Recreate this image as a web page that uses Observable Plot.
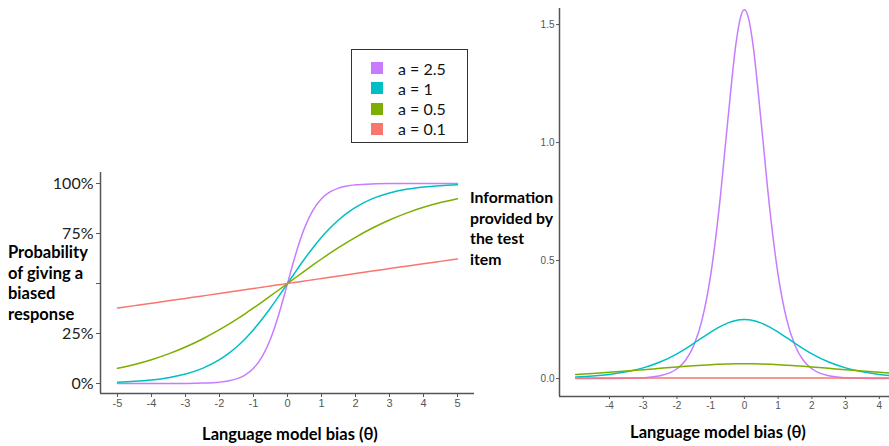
<!DOCTYPE html>
<html><head><meta charset="utf-8">
<script src="https://cdn.jsdelivr.net/npm/d3@7"></script>
<script src="https://cdn.jsdelivr.net/npm/@observablehq/plot@0.6"></script>
<style>
body{margin:0;background:#fff;}
#wrap{position:relative;width:889px;height:446px;overflow:hidden;font-family:Lato, sans-serif;}
#wrap .panel{position:absolute;top:0;}
.lbl{position:absolute;font-weight:bold;color:#000;font-size:16.5px;line-height:20.5px;white-space:nowrap;}
.xt{position:absolute;font-weight:bold;color:#000;font-size:16.5px;text-align:center;white-space:nowrap;}
#legend{position:absolute;left:351px;top:49px;width:115px;height:92px;border:1px solid #333;box-sizing:content-box;}
#legend .row{position:absolute;left:0;height:20px;display:flex;align-items:center;font-size:16px;color:#111;}
#legend .sw{width:12px;height:12px;margin-left:19px;margin-right:15px;}
</style></head><body><div id="wrap"></div>
<script>
// shared θ grid
const theta = [-5,-4.5,-4,-3.5,-3,-2.5,-2,-1.75,-1.5,-1.25,-1,-0.75,-0.5,-0.25,-0.125,0,0.125,0.25,0.5,0.75,1,1.25,1.5,1.75,2,2.5,3,3.5,4,4.5,5];

// probability of giving a biased response (left panel)
const probA25 = [0.000004,0.000013,0.000045,0.000158,0.000553,0.00193,0.00669,0.01243,0.02298,0.04209,0.07586,0.13296,0.22270,0.34865,0.42250,0.5,0.57750,0.65135,0.77730,0.86704,0.92414,0.95791,0.97702,0.98757,0.99331,0.99807,0.99945,0.99984,0.99995,0.99999,1.0];
const probA1  = [0.00669,0.01099,0.01799,0.02931,0.04743,0.07586,0.11920,0.14805,0.18243,0.22270,0.26894,0.32082,0.37754,0.43782,0.46879,0.5,0.53121,0.56218,0.62246,0.67918,0.73106,0.77730,0.81757,0.85195,0.88080,0.92414,0.95257,0.97069,0.98201,0.98901,0.99331];
const probA05 = [0.07586,0.09535,0.11920,0.14805,0.18243,0.22270,0.26894,0.29422,0.32082,0.34865,0.37754,0.40733,0.43782,0.46879,0.48438,0.5,0.51562,0.53121,0.56218,0.59267,0.62246,0.65135,0.67918,0.70578,0.73106,0.77730,0.81757,0.85195,0.88080,0.90465,0.92414];
const probA01 = [0.37754,0.38936,0.40131,0.41338,0.42556,0.43782,0.45017,0.45636,0.46257,0.46879,0.47502,0.48126,0.48750,0.49375,0.49688,0.5,0.50312,0.50625,0.51250,0.51874,0.52498,0.53121,0.53743,0.54364,0.54983,0.56218,0.57444,0.58662,0.59869,0.61064,0.62246];

// information provided by the test item (right panel)
const infoA25 = [0.00002,0.00008,0.00028,0.00099,0.00346,0.0120,0.0415,0.0767,0.1403,0.2520,0.4382,0.7205,1.0819,1.4193,1.5250,1.5625,1.5250,1.4193,1.0819,0.7205,0.4382,0.2520,0.1403,0.0767,0.0415,0.0120,0.00346,0.00099,0.00028,0.00008,0.00002];
const infoA1  = [0.006645,0.010869,0.017666,0.028451,0.045180,0.070105,0.104991,0.126131,0.149149,0.173105,0.196612,0.217894,0.235004,0.246133,0.24903,0.25,0.24903,0.246133,0.235004,0.217894,0.196612,0.173105,0.149149,0.126131,0.104991,0.070105,0.045180,0.028451,0.017666,0.010869,0.006645];
const infoA05 = [0.017526,0.021565,0.026248,0.031533,0.037287,0.043276,0.049153,0.051914,0.054474,0.056773,0.058751,0.060353,0.061533,0.062258,0.06244,0.0625,0.06244,0.062258,0.061533,0.060353,0.058751,0.056773,0.054474,0.051914,0.049153,0.043276,0.037287,0.031533,0.026248,0.021565,0.017526];
const infoA01 = [0.00235,0.00238,0.00240,0.00242,0.00244,0.00246,0.00248,0.00248,0.00249,0.00249,0.00249,0.00250,0.00250,0.00250,0.0025,0.0025,0.0025,0.00250,0.00250,0.00250,0.00249,0.00249,0.00249,0.00248,0.00248,0.00246,0.00244,0.00242,0.00240,0.00238,0.00235];

const seriesLabels = ["a = 2.5", "a = 1", "a = 0.5", "a = 0.1"];
const seriesColors = ["#C77CFF", "#00BFC4", "#7CAE00", "#F8766D"];

const probTicks = [0, 0.25, 0.5, 0.75, 1];
const probTickLabels = ["0%", "25%", "", "75%", "100%"];
const leftThetaTicks = [-5,-4,-3,-2,-1,0,1,2,3,4,5];
const infoTicks = [0, 0.5, 1, 1.5];
const infoTickLabels = ["0.0", "0.5", "1.0", "1.5"];
const rightThetaTicks = [-4,-3,-2,-1,0,1,2,3,4];

const leftYLabel = ["Probability", "of giving a", "biased", "response"];
const rightYLabel = ["Information", "provided by", "the test", "item"];
const xTitle = "Language model bias (θ)";

// build table
const probSeries = [probA25, probA1, probA05, probA01];
const infoSeries = [infoA25, infoA1, infoA05, infoA01];
const rows = [];
seriesLabels.forEach((s, k) => {
  theta.forEach((t, j) => rows.push({series: s, theta: t, p: probSeries[k][j], info: infoSeries[k][j]}));
});

const wrap = document.getElementById("wrap");
const lxDom = [-5.5, 5.5], lyDom = [-0.05, 1.055];
const left = Plot.plot({
  width: 480, height: 446,
  marginLeft: 100, marginRight: 6, marginTop: 172, marginBottom: 53,
  x: {domain: lxDom},
  y: {domain: lyDom},
  color: {domain: seriesLabels, range: seriesColors},
  style: {background: "transparent", overflow: "visible"},
  marks: [
    Plot.line(rows, {x: "theta", y: "p", z: "series", stroke: "series", curve: "monotone-x", strokeWidth: 1.5}),
    Plot.ruleX([lxDom[0]], {stroke: "#555", strokeWidth: 1.5}),
    Plot.ruleY([lyDom[0]], {stroke: "#555", strokeWidth: 1.5}),
    Plot.axisX(leftThetaTicks, {tickSize: 4, tickPadding: 2, fontSize: 11, fontFamily: "Liberation Sans", fill: "#555", stroke: "#555", tickFormat: d => String(d), label: null}),
    Plot.axisY(probTicks, {tickSize: 4, tickPadding: 3, fontSize: 16, fontFamily: "Lato", fill: "#222", stroke: "#555", tickFormat: d => probTickLabels[probTicks.indexOf(d)], label: null})
  ]
});
left.classList.add("panel");
left.style.left = "0px";
wrap.appendChild(left);

const rxDom = [-5.48, 4.3], ryDom = [-0.076, 1.568];
const right = Plot.plot({
  width: 409, height: 446,
  marginLeft: 79, marginRight: 0, marginTop: 8, marginBottom: 50,
  x: {domain: rxDom},
  y: {domain: ryDom},
  color: {domain: seriesLabels, range: seriesColors},
  style: {background: "transparent"},
  marks: [
    Plot.line(rows, {x: "theta", y: "info", z: "series", stroke: "series", curve: "monotone-x", strokeWidth: 1.5, clip: true}),
    Plot.ruleX([rxDom[0]], {stroke: "#555", strokeWidth: 1.5}),
    Plot.ruleY([ryDom[0]], {stroke: "#555", strokeWidth: 1.5}),
    Plot.axisX(rightThetaTicks, {tickSize: 3, tickPadding: 2, fontSize: 10, fontFamily: "Liberation Sans", fill: "#555", stroke: "#555", tickFormat: d => String(d), label: null}),
    Plot.axisY(infoTicks, {tickSize: 3, tickPadding: 2, fontSize: 10, fontFamily: "Liberation Sans", fill: "#555", stroke: "#555", tickFormat: d => infoTickLabels[infoTicks.indexOf(d)], label: null})
  ]
});
right.classList.add("panel");
right.style.left = "480px";
wrap.appendChild(right);

function addLabel(lines, x, y, size) {
  const d = document.createElement("div");
  d.className = "lbl";
  d.style.left = x + "px"; d.style.top = y + "px";
  d.style.fontSize = size + "px";
  d.innerHTML = lines.join("<br>");
  wrap.appendChild(d);
}
addLabel(leftYLabel, 8, 242, 16.5);
addLabel(rightYLabel, 470, 187, 15.8);

function addTitle(cx, cy) {
  const d = document.createElement("div");
  d.className = "xt";
  d.style.left = (cx - 120) + "px"; d.style.width = "240px";
  d.style.top = (cy - 11) + "px";
  d.textContent = xTitle;
  wrap.appendChild(d);
}
addTitle(290, 435);
addTitle(718, 433);

const lg = document.createElement("div");
lg.id = "legend";
seriesLabels.forEach((s, i) => {
  const r = document.createElement("div");
  r.className = "row";
  r.style.top = (8 + i * 20.3) + "px";
  r.innerHTML = `<span class="sw" style="background:${seriesColors[i]}"></span><span>${s}</span>`;
  lg.appendChild(r);
});
wrap.appendChild(lg);
</script></body></html>
